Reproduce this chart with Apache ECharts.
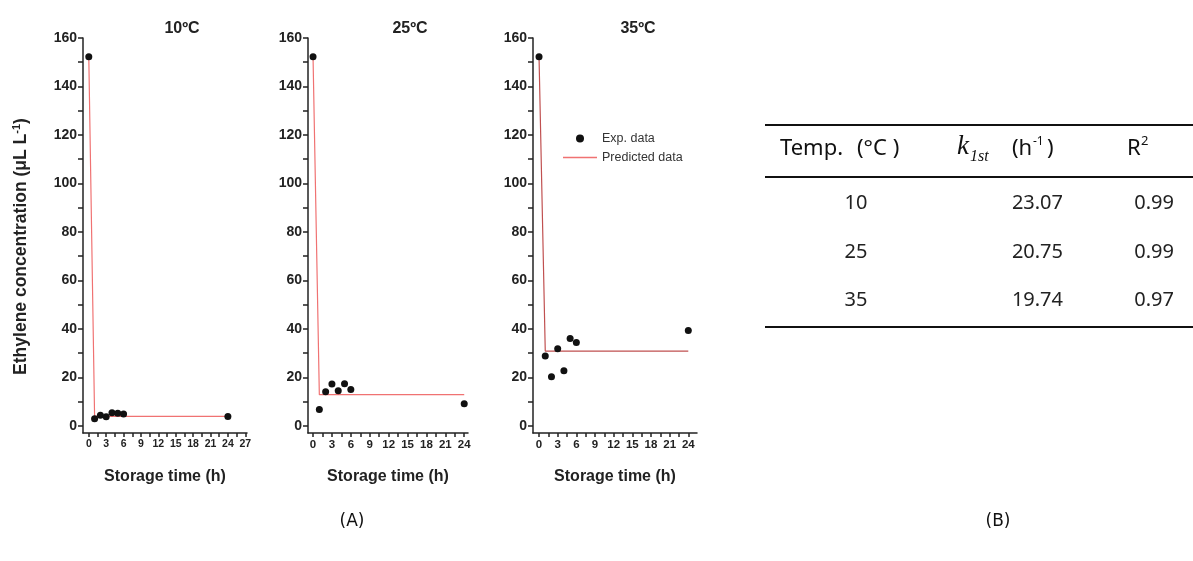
<!DOCTYPE html>
<html>
<head>
<meta charset="utf-8">
<script src="https://cdn.jsdelivr.net/npm/echarts@6/dist/echarts.min.js"></script>
<style>
  html, body { margin: 0; padding: 0; background: #fff; }
  #chart { width: 1193px; height: 561px; }
</style>
</head>
<body>
<div id="chart"></div>
<script>
// storage time points (h)
const hours = [0, 1, 2, 3, 4, 5, 6, 24];
// measured ethylene (uL/L)
const exp10 = [152.3, 2.9, 4.3, 3.7, 5.4, 5.1, 4.8, 3.8];
const exp25 = [152.3, 6.7, 14.0, 17.2, 14.4, 17.3, 15.0, 9.1];
const exp35 = [152.3, 28.8, 20.2, 31.8, 22.7, 36.0, 34.3, 39.3];
// model curve
const predHours = [0, 1, 24];
const pred10 = [152.3, 3.9, 3.9];
const pred25 = [152.3, 12.8, 12.8];
const pred35 = [152.3, 30.8, 30.8];

const panelTitles = ["10ºC", "25ºC", "35ºC"];
const yTicks = [0, 10, 20, 30, 40, 50, 60, 70, 80, 90, 100, 110, 120, 130, 140, 150, 160];
const yLabels = [0, 20, 40, 60, 80, 100, 120, 140, 160];
const xLabels27 = [0, 3, 6, 9, 12, 15, 18, 21, 24, 27];
const xLabels24 = [0, 3, 6, 9, 12, 15, 18, 21, 24];
const xTicks27 = [0, 1.5, 3, 4.5, 6, 7.5, 9, 10.5, 12, 13.5, 15, 16.5, 18, 19.5, 21, 22.5, 24, 25.5, 27];
const xTicks24 = [0, 1.5, 3, 4.5, 6, 7.5, 9, 10.5, 12, 13.5, 15, 16.5, 18, 19.5, 21, 22.5, 24];

// table (B)
const tableTemps = ["10", "25", "35"];
const tableK = ["23.07", "20.75", "19.74"];
const tableR2 = ["0.99", "0.99", "0.97"];

const pairs = (xs, ys) => xs.map((x, i) => [x, ys[i]]);

const chart = echarts.init(document.getElementById("chart"));

const grids = [
  { left: 83, top: 38, width: 164, height: 395 },
  { left: 308, top: 38, width: 160, height: 395 },
  { left: 533, top: 38, width: 164, height: 395 },
];
const xRanges = [[-1, 27.3], [-0.8, 24.6], [-0.97, 25.4]];

const axisLineStyle = { color: "#222", width: 1.5 };

const xAxes = grids.map((g, i) => ({
  type: "value",
  gridIndex: i,
  min: xRanges[i][0],
  max: xRanges[i][1],
  name: "Storage time (h)",
  nameLocation: "middle",
  nameGap: 36,
  nameTextStyle: { fontFamily: "Liberation Sans", fontWeight: "bold", fontSize: 16, color: "#222" },
  axisLine: { show: true, onZero: false, lineStyle: axisLineStyle },
  axisTick: { show: true, length: 4, lineStyle: axisLineStyle, customValues: i === 0 ? xTicks27 : xTicks24 },
  axisLabel: {
    customValues: i === 0 ? xLabels27 : xLabels24,
    fontFamily: "Liberation Sans", fontWeight: "bold", fontSize: i === 0 ? 10.5 : 11.5, color: "#222", margin: 6,
  },
  splitLine: { show: false },
}));

const yAxes = grids.map((g, i) => ({
  type: "value",
  gridIndex: i,
  min: -3,
  max: 160,
  name: i === 0 ? "{a|Ethylene concentration (μL L}{s|-1}{a|)}" : "",
  nameLocation: "middle",
  nameGap: 52,
  nameTextStyle: {
    padding: [0, 22, 0, 0],
    rich: {
      a: { fontFamily: "Liberation Sans", fontWeight: "bold", fontSize: 17.5, color: "#222" },
      s: { fontFamily: "Liberation Sans", fontWeight: "bold", fontSize: 11, color: "#222", verticalAlign: "top", padding: [0, 0, 9, 0] },
    },
  },
  axisLine: { show: true, onZero: false, lineStyle: axisLineStyle },
  axisTick: { show: true, length: 5, lineStyle: axisLineStyle, customValues: yTicks },
  axisLabel: {
    customValues: yLabels,
    fontFamily: "Liberation Sans", fontWeight: "bold", fontSize: 14, color: "#222", margin: 6,
  },
  splitLine: { show: false },
}));

const expSets = [exp10, exp25, exp35];
const predSets = [pred10, pred25, pred35];
const predColors = ["#f07272", "#f07272", "#c05050"];

const series = [];
expSets.forEach((d, i) => {
  series.push({
    name: "Predicted data",
    type: "line",
    xAxisIndex: i,
    yAxisIndex: i,
    data: pairs(predHours, predSets[i]),
    symbol: "none",
    lineStyle: { color: predColors[i], width: 1.2 },
    itemStyle: { color: "#f07272" },
    z: 2,
  });
  series.push({
    name: "Exp. data",
    type: "scatter",
    xAxisIndex: i,
    yAxisIndex: i,
    data: pairs(hours, d),
    symbol: "circle",
    symbolSize: 7,
    itemStyle: { color: "#111", opacity: 1 },
    z: 3,
  });
});

// table graphics
const tFont = "Noto Sans";
const sup = (x, y, t, size) => ({ type: "text", x: x, y: y, style: { text: t, font: size + "px " + tFont, fill: "#111" } });
const tableG = [
  { type: "line", shape: { x1: 765, y1: 125, x2: 1193, y2: 125 }, style: { stroke: "#111", lineWidth: 2 } },
  { type: "line", shape: { x1: 765, y1: 177, x2: 1193, y2: 177 }, style: { stroke: "#111", lineWidth: 2 } },
  { type: "line", shape: { x1: 765, y1: 327, x2: 1193, y2: 327 }, style: { stroke: "#111", lineWidth: 2 } },
  { type: "text", x: 780, y: 149, style: { text: "Temp.", font: "22px " + tFont, fill: "#111", verticalAlign: "middle" } },
  { type: "text", x: 857, y: 149, style: { text: "(°C )", font: "22px " + tFont, fill: "#111", verticalAlign: "middle" } },
  { type: "text", x: 957, y: 147, style: { text: "k", font: "italic 27px Liberation Serif", fill: "#111", verticalAlign: "middle" } },
  { type: "text", x: 970, y: 149, style: { text: "1st", font: "italic 16px Liberation Serif", fill: "#111" } },
  { type: "text", x: 1012, y: 149, style: { text: "(h", font: "22px " + tFont, fill: "#111", verticalAlign: "middle" } },
  sup(1033, 136, "-1", 12),
  { type: "text", x: 1047, y: 149, style: { text: ")", font: "22px " + tFont, fill: "#111", verticalAlign: "middle" } },
  { type: "text", x: 1127, y: 149, style: { text: "R", font: "22px " + tFont, fill: "#111", verticalAlign: "middle" } },
  sup(1141, 135, "2", 13),
];
const rowY = [203, 252, 300];
tableTemps.forEach((t, i) => {
  tableG.push({ type: "text", x: 856, y: rowY[i], style: { text: t, font: "20px " + tFont, fill: "#222", align: "center", verticalAlign: "middle" } });
  tableG.push({ type: "text", x: 1063, y: rowY[i], style: { text: tableK[i], font: "20px " + tFont, fill: "#222", align: "right", verticalAlign: "middle" } });
  tableG.push({ type: "text", x: 1174, y: rowY[i], style: { text: tableR2[i], font: "20px " + tFont, fill: "#222", align: "right", verticalAlign: "middle" } });
});
tableG.push({ type: "text", x: 352, y: 522, style: { text: "(A)", font: "17px DejaVu Sans", fill: "#111", align: "center", verticalAlign: "middle" } });
tableG.push({ type: "text", x: 998, y: 522, style: { text: "(B)", font: "17px DejaVu Sans", fill: "#111", align: "center", verticalAlign: "middle" } });

const legendText = { fontFamily: "Liberation Sans", fontSize: 12.5, color: "#333" };

const options = {
  animation: false,
  backgroundColor: "#fff",
  title: panelTitles.map((t, i) => ({
    text: t,
    left: [177, 405, 633][i],
    top: 16,
    textAlign: "center",
    textStyle: { fontFamily: "Liberation Sans", fontWeight: "bold", fontSize: 16, color: "#222" },
  })),
  legend: [
    {
      data: [{ name: "Exp. data", icon: "circle" }],
      left: 576, top: 132, padding: 0,
      itemWidth: 8, itemHeight: 8, itemGap: 5,
      textStyle: Object.assign({ padding: [0, 0, 0, 13] }, legendText),
    },
    {
      data: [{ name: "Predicted data", icon: "rect", itemStyle: { color: "#f07272" } }],
      left: 563, top: 151, padding: 0,
      itemWidth: 34, itemHeight: 1.3, itemGap: 5,
      textStyle: legendText,
    },
  ],
  grid: grids,
  xAxis: xAxes,
  yAxis: yAxes,
  series: series,
  graphic: tableG,
};

chart.setOption(options);
</script>
</body>
</html>
